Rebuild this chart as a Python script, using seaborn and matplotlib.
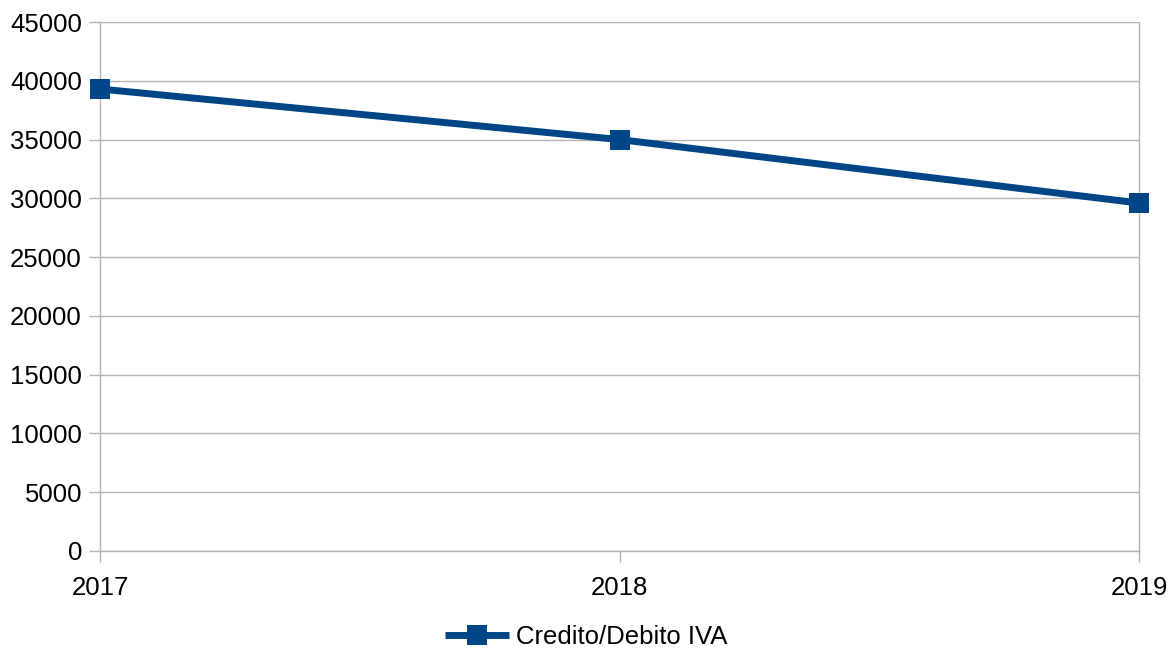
"""Credito/Debito IVA by year, redrawn as a line chart."""

import matplotlib

matplotlib.use("Agg")

import matplotlib.pyplot as plt
import pandas as pd
import seaborn as sns

YEARS = [2017, 2018, 2019]
VALUES = [39300, 35000, 29600]
SERIES_NAME = "Credito/Debito IVA"
Y_TICKS = list(range(0, 45001, 5000))

LINE_COLOR = "#004586"
GRID_COLOR = "#b3b3b3"
FONT_SIZE = 18.5

df = pd.DataFrame({"year": YEARS, "value": VALUES})

sns.set_theme(style="white")
plt.rcParams["font.family"] = ["Liberation Sans", "DejaVu Sans"]
plt.rcParams["text.color"] = "black"

fig = plt.figure(figsize=(11.68, 6.5), dpi=100)
ax = fig.add_axes([100 / 1168, 1 - 551 / 650, 1039 / 1168, 529 / 650])

sns.lineplot(
    data=df, x="year", y="value", ax=ax,
    color=LINE_COLOR, linewidth=5, marker="s", markersize=14,
    markeredgewidth=0, label=SERIES_NAME, zorder=3,
    solid_capstyle="butt",
)
for line in ax.get_lines():
    line.set_clip_on(False)

ax.set_xlim(YEARS[0], YEARS[-1])
ax.set_ylim(0, 45000)
ax.set_xticks(YEARS)
ax.set_xticklabels([str(y) for y in YEARS])
ax.set_yticks(Y_TICKS)
ax.set_yticklabels([str(t) for t in Y_TICKS])
ax.set_xlabel("")
ax.set_ylabel("")

ax.yaxis.grid(True, color=GRID_COLOR, linewidth=1)
ax.xaxis.grid(False)
for side in ["left", "right", "bottom"]:
    ax.spines[side].set_color(GRID_COLOR)
    ax.spines[side].set_linewidth(1)
ax.spines["top"].set_visible(False)
ax.tick_params(axis="both", which="both", length=8, width=1, color=GRID_COLOR,
               labelsize=FONT_SIZE, labelcolor="black", direction="out",
               bottom=True, left=True)
ax.tick_params(axis="y", pad=5)
ax.tick_params(axis="x", pad=10)

leg = ax.legend(loc="center", bbox_to_anchor=(0.468, -(637 - 551) / 529),
                frameon=False, fontsize=FONT_SIZE, handlelength=2.5,
                handletextpad=0.25, borderpad=0, borderaxespad=0)
for txt in leg.get_texts():
    txt.set_color("black")

fig.savefig("out.png", dpi=100)
plt.close(fig)
